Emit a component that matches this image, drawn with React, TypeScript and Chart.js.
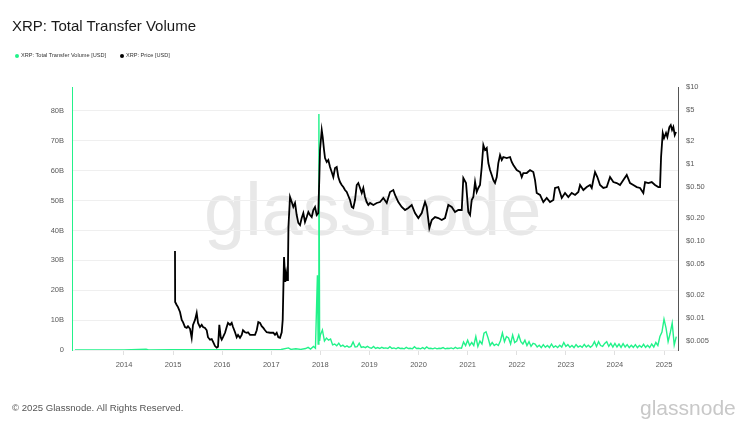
import { useEffect, useRef } from "react";
import { Chart, registerables } from "chart.js";

Chart.register(...registerables);

// ---------- axis ticks ----------
const yearTicks = [2014, 2015, 2016, 2017, 2018, 2019, 2020, 2021, 2022, 2023, 2024, 2025];
const volumeTicksB = [0, 10, 20, 30, 40, 50, 60, 70, 80];
const priceTicks = [0.005, 0.01, 0.02, 0.05, 0.1, 0.2, 0.5, 1, 2, 5, 10];
const priceTickLabels = ["$0.005", "$0.01", "$0.02", "$0.05", "$0.10", "$0.20", "$0.50", "$1", "$2", "$5", "$10"];

const X_MIN = 2012.941;
const X_MAX = 2025.285;
const VOL_MAX_B = 88;
const PRICE_MIN = 0.00382;
const PRICE_MAX = 10;

// ---------- Total transfer volume (billions USD) ----------
const volEarlyDates = [2013.0, 2013.5, 2014.0, 2014.45, 2014.5, 2015.0, 2015.5, 2016.0, 2016.5, 2017.0, 2017.2, 2017.35, 2017.4, 2017.5, 2017.6, 2017.7, 2017.75, 2017.8, 2017.86, 2017.9, 2017.94, 2017.955, 2017.97, 2017.985];
const volEarlyB = [0.05, 0.05, 0.05, 0.3, 0.05, 0.08, 0.08, 0.08, 0.1, 0.1, 0.15, 0.7, 0.2, 0.4, 0.2, 0.5, 0.9, 0.3, 1.2, 0.6, 25, 2, 79, 3];
// half-monthly samples from the start of each year
const vol2018 = [5, 6.7, 3.0, 4.0, 3.3, 3.7, 1.7, 2.0, 1.4, 2.3, 1.2, 1.6, 1.0, 1.4, 0.9, 1.2, 2.7, 1.0, 1.1, 2.3, 0.9, 1.1, 0.8, 1.2];
const vol2019 = [0.8, 0.6, 1.2, 0.5, 0.8, 0.5, 0.9, 0.6, 0.7, 0.5, 1.1, 0.5, 0.7, 0.4, 0.8, 0.5, 0.6, 0.4, 0.9, 0.5, 0.6, 0.4, 1.1, 0.5];
const vol2020 = [0.6, 0.4, 0.8, 0.4, 1.0, 0.5, 0.6, 0.4, 0.7, 0.4, 0.6, 0.5, 0.8, 0.4, 0.6, 0.5, 0.7, 0.4, 0.9, 0.5, 0.7, 0.6, 2.7, 1.5];
const vol2021 = [3.3, 1.5, 2.5, 1.5, 4.5, 1.2, 3.0, 2.0, 5.6, 6.1, 4.0, 1.5, 2.5, 1.5, 2.0, 1.5, 3.0, 5.7, 2.8, 4.5, 4.0, 2.0, 5.0, 2.5];
const vol2022 = [3.0, 5.0, 2.8, 2.0, 3.3, 1.5, 2.8, 1.2, 2.2, 2.0, 1.0, 1.6, 0.8, 1.8, 0.9, 1.5, 0.8, 2.0, 0.9, 1.4, 0.8, 1.6, 1.0, 2.5];
const vol2023 = [1.2, 1.8, 0.9, 1.5, 0.8, 1.8, 1.0, 1.4, 0.9, 1.9, 1.0, 1.6, 0.9, 1.5, 2.8, 1.2, 2.8, 1.5, 1.2, 2.2, 2.8, 1.2, 2.2, 1.0];
const vol2024 = [2.2, 1.0, 2.0, 0.9, 2.1, 1.0, 1.8, 0.8, 1.6, 0.9, 1.8, 0.8, 1.5, 0.9, 1.9, 0.9, 1.6, 0.8, 2.0, 1.0, 2.5, 1.5, 4.5, 6.0];
const vol2025 = [10.3, 7.3, 2.8, 5.6, 9.0, 1.7, 4.5];
const volYears = [2018, 2019, 2020, 2021, 2022, 2023, 2024, 2025];
const volByYear = [vol2018, vol2019, vol2020, vol2021, vol2022, vol2023, vol2024, vol2025];

// ---------- Price (USD), [date, price] ----------
const price2015 = [[2015.039, 0.0739], [2015.042, 0.0161], [2015.074, 0.0147], [2015.1, 0.0138], [2015.141, 0.0119], [2015.176, 0.0094], [2015.202, 0.0088], [2015.243, 0.0076], [2015.278, 0.0074], [2015.304, 0.0078], [2015.345, 0.0072], [2015.379, 0.0055], [2015.406, 0.0081], [2015.447, 0.0094], [2015.481, 0.0116], [2015.508, 0.0086], [2015.548, 0.0076], [2015.583, 0.0081], [2015.61, 0.0076], [2015.65, 0.0074], [2015.685, 0.0069], [2015.711, 0.0056], [2015.752, 0.0052], [2015.787, 0.0053], [2015.813, 0.0049], [2015.854, 0.0043], [2015.889, 0.0041], [2015.915, 0.0042], [2015.942, 0.0081], [2015.97, 0.0056], [2015.991, 0.0052]];
const price2016 = [[2016.017, 0.0056], [2016.058, 0.0064], [2016.092, 0.0076], [2016.119, 0.0086], [2016.16, 0.0081], [2016.194, 0.0086], [2016.221, 0.0076], [2016.262, 0.0065], [2016.296, 0.0056], [2016.323, 0.006], [2016.363, 0.0055], [2016.398, 0.006], [2016.424, 0.0069], [2016.465, 0.0065], [2016.5, 0.0064], [2016.526, 0.0065], [2016.567, 0.006], [2016.602, 0.006], [2016.669, 0.006], [2016.704, 0.0069], [2016.736, 0.0088], [2016.771, 0.0086], [2016.805, 0.0078], [2016.838, 0.0074], [2016.873, 0.0069], [2016.907, 0.0065], [2016.975, 0.0064]];
const price2017 = [[2017.042, 0.0064], [2017.076, 0.006], [2017.111, 0.0064], [2017.144, 0.0056], [2017.178, 0.0055], [2017.213, 0.0065], [2017.233, 0.0094], [2017.26, 0.0617], [2017.286, 0.0292], [2017.305, 0.0382], [2017.327, 0.031], [2017.34, 0.0458], [2017.35, 0.152], [2017.382, 0.372], [2017.417, 0.32], [2017.449, 0.276], [2017.484, 0.311], [2017.518, 0.217], [2017.551, 0.171], [2017.586, 0.161], [2017.62, 0.198], [2017.653, 0.23], [2017.687, 0.176], [2017.722, 0.204], [2017.755, 0.237], [2017.789, 0.217], [2017.824, 0.204], [2017.857, 0.252], [2017.891, 0.276], [2017.926, 0.217], [2017.958, 0.23], [2017.979, 0.657], [2017.993, 1.518]];
const price2018 = [[2018.028, 2.761], [2018.048, 2.239], [2018.075, 1.518], [2018.095, 1.195], [2018.13, 1.06], [2018.162, 1.125], [2018.197, 0.912], [2018.231, 0.786], [2018.264, 0.676], [2018.299, 0.886], [2018.333, 0.912], [2018.366, 0.676], [2018.4, 0.582], [2018.435, 0.532], [2018.468, 0.501], [2018.502, 0.458], [2018.537, 0.432], [2018.604, 0.34], [2018.639, 0.276], [2018.671, 0.268], [2018.706, 0.34], [2018.741, 0.532], [2018.773, 0.565], [2018.808, 0.487], [2018.843, 0.419], [2018.875, 0.487], [2018.91, 0.372], [2018.944, 0.32], [2018.977, 0.293]];
const price2019 = [[2019.012, 0.311], [2019.079, 0.293], [2019.148, 0.311], [2019.215, 0.32], [2019.283, 0.361], [2019.352, 0.311], [2019.419, 0.432], [2019.486, 0.458], [2019.521, 0.395], [2019.588, 0.32], [2019.657, 0.276], [2019.725, 0.252], [2019.792, 0.268], [2019.861, 0.293], [2019.928, 0.23], [2019.996, 0.198]];
const price2020 = [[2020.065, 0.23], [2020.132, 0.32], [2020.167, 0.276], [2020.22, 0.147], [2020.269, 0.187], [2020.336, 0.204], [2020.403, 0.198], [2020.472, 0.187], [2020.539, 0.198], [2020.607, 0.293], [2020.676, 0.276], [2020.743, 0.237], [2020.81, 0.252], [2020.88, 0.252], [2020.912, 0.657], [2020.967, 0.565]];
const price2021 = [[2021.014, 0.237], [2021.049, 0.217], [2021.083, 0.34], [2021.116, 0.372], [2021.151, 0.582], [2021.185, 0.432], [2021.218, 0.487], [2021.252, 0.532], [2021.287, 0.912], [2021.32, 1.763], [2021.354, 1.518], [2021.389, 1.611], [2021.422, 1.028], [2021.456, 0.834], [2021.491, 0.718], [2021.524, 0.618], [2021.558, 0.565], [2021.593, 0.676], [2021.625, 1.028], [2021.66, 1.307], [2021.695, 1.125], [2021.727, 1.231], [2021.796, 1.195], [2021.864, 1.231], [2021.898, 1.06], [2021.931, 0.969]];
const price2022 = [[2022.0, 0.834], [2022.067, 0.786], [2022.102, 0.676], [2022.134, 0.762], [2022.204, 0.762], [2022.271, 0.834], [2022.338, 0.786], [2022.373, 0.618], [2022.407, 0.419], [2022.475, 0.395], [2022.542, 0.32], [2022.611, 0.361], [2022.678, 0.32], [2022.746, 0.34], [2022.78, 0.487], [2022.847, 0.501], [2022.917, 0.361], [2022.984, 0.419]];
const price2023 = [[2023.051, 0.372], [2023.12, 0.419], [2023.188, 0.395], [2023.255, 0.432], [2023.29, 0.532], [2023.357, 0.458], [2023.426, 0.501], [2023.493, 0.532], [2023.528, 0.487], [2023.56, 0.618], [2023.595, 0.786], [2023.642, 0.676], [2023.697, 0.532], [2023.764, 0.487], [2023.833, 0.501], [2023.901, 0.676], [2023.968, 0.582]];
const price2024 = [[2024.037, 0.565], [2024.104, 0.532], [2024.172, 0.618], [2024.241, 0.718], [2024.308, 0.565], [2024.375, 0.532], [2024.445, 0.501], [2024.512, 0.487], [2024.579, 0.419], [2024.614, 0.582], [2024.681, 0.565], [2024.75, 0.582], [2024.817, 0.532], [2024.885, 0.501], [2024.919, 0.501], [2024.94, 1.231], [2024.974, 2.524]];
const price2025 = [[2025.001, 2.173], [2025.041, 2.524], [2025.068, 2.239], [2025.109, 3.021], [2025.137, 3.207], [2025.164, 2.761], [2025.19, 3.021], [2025.219, 2.377], [2025.245, 2.601]];
const priceByYear = [price2015, price2016, price2017, price2018, price2019, price2020, price2021, price2022, price2023, price2024, price2025];

const GREEN = "#22f28a";
const FONT = "'Liberation Sans', Arial, Helvetica, sans-serif";

function buildVolume() {
  const pts: { x: number; y: number }[] = volEarlyDates.map((d, i) => ({ x: d, y: volEarlyB[i] }));
  volYears.forEach((yr, k) => {
    volByYear[k].forEach((v, i) => pts.push({ x: yr + i / 24, y: v }));
  });
  return pts;
}

function buildPrice() {
  const pts: { x: number; y: number }[] = [];
  priceByYear.forEach((arr) => arr.forEach(([d, p]) => pts.push({ x: d, y: p })));
  return pts;
}

export default function App() {
  const ref = useRef<HTMLCanvasElement | null>(null);

  useEffect(() => {
    if (!ref.current) return;
    const tickFont = { family: FONT, size: 7.5 };
    const chart = new Chart(ref.current, {
      type: "line",
      data: {
        datasets: [
          {
            label: "XRP: Price [USD]",
            data: buildPrice(),
            yAxisID: "yPrice",
            borderColor: "#000000",
            borderWidth: 1.8,
            pointRadius: 0,
            tension: 0,
            order: 0,
          },
          {
            label: "XRP: Total Transfer Volume [USD]",
            data: buildVolume(),
            yAxisID: "yVol",
            borderColor: GREEN,
            borderWidth: 1.4,
            pointRadius: 0,
            tension: 0,
            order: 1,
          },
        ],
      },
      options: {
        animation: false,
        responsive: false,
        devicePixelRatio: 1,
        layout: { padding: { left: 10, right: 0, top: 87, bottom: 50 } },
        plugins: { legend: { display: false }, title: { display: false }, tooltip: { enabled: false } },
        scales: {
          x: {
            type: "linear",
            min: X_MIN,
            max: X_MAX,
            afterBuildTicks: (axis: any) => {
              axis.ticks = yearTicks.map((v) => ({ value: v }));
            },
            afterFit: (axis: any) => {
              axis.height = 30;
            },
            grid: { drawOnChartArea: false, drawTicks: true, tickLength: 5, color: "#e0e0e0" },
            border: { display: false },
            ticks: {
              padding: 5,
              font: tickFont,
              color: "#5a5a5a",
              maxRotation: 0,
              autoSkip: false,
              callback: (v: any) => String(v),
            },
          },
          yVol: {
            type: "linear",
            position: "left",
            min: 0,
            max: VOL_MAX_B,
            afterBuildTicks: (axis: any) => {
              axis.ticks = volumeTicksB.map((v) => ({ value: v }));
            },
            afterFit: (axis: any) => {
              axis.width = 62;
            },
            grid: { color: "#efefef", drawTicks: false },
            border: { display: true, color: GREEN, width: 1 },
            ticks: {
              padding: 8,
              font: tickFont,
              color: "#5a5a5a",
              callback: (v: any) => (v === 0 ? "0" : `${v}B`),
            },
          },
          yPrice: {
            type: "logarithmic",
            position: "right",
            min: PRICE_MIN,
            max: PRICE_MAX,
            afterBuildTicks: (axis: any) => {
              axis.ticks = priceTicks.map((v) => ({ value: v }));
            },
            afterFit: (axis: any) => {
              axis.width = 72;
            },
            grid: { drawOnChartArea: false, drawTicks: false },
            border: { display: true, color: "#555", width: 1 },
            ticks: {
              padding: 8,
              font: tickFont,
              color: "#5a5a5a",
              callback: (v: any) => {
                const i = priceTicks.findIndex((t) => Math.abs(t - v) / t < 1e-6);
                return i >= 0 ? priceTickLabels[i] : "";
              },
            },
          },
        },
      },
    });
    return () => chart.destroy();
  }, []);

  const text = (style: any, content: any) => (
    <div style={{ position: "absolute", whiteSpace: "nowrap", fontFamily: FONT, lineHeight: 1, ...style }}>{content}</div>
  );

  return (
    <div style={{ position: "absolute", left: 0, top: 0, width: 750, height: 430, background: "#fff", overflow: "hidden" }}>
      {text({ left: 204, top: 173, fontSize: 74, color: "#e8e8e8" }, "glassnode")}
      <canvas ref={ref} width={750} height={430} style={{ position: "absolute", left: 0, top: 0, width: 750, height: 430 }} />
      {text({ left: 12, top: 17.6, fontSize: 15, color: "#1a1a1a" }, "XRP: Total Transfer Volume")}
      <div style={{ position: "absolute", left: 15, top: 54, width: 4.4, height: 4.4, borderRadius: "50%", background: GREEN }} />
      {text({ left: 21, top: 53.3, fontSize: 5.6, color: "#333" }, "XRP: Total Transfer Volume [USD]")}
      <div style={{ position: "absolute", left: 120, top: 54, width: 4.4, height: 4.4, borderRadius: "50%", background: "#000" }} />
      {text({ left: 126, top: 53.3, fontSize: 5.6, color: "#333" }, "XRP: Price [USD]")}
      {text({ left: 12, top: 403.4, fontSize: 9.6, color: "#555" }, "© 2025 Glassnode. All Rights Reserved.")}
      {text({ left: 640, top: 397, fontSize: 21, color: "#c8c8c8" }, "glassnode")}
    </div>
  );
}
